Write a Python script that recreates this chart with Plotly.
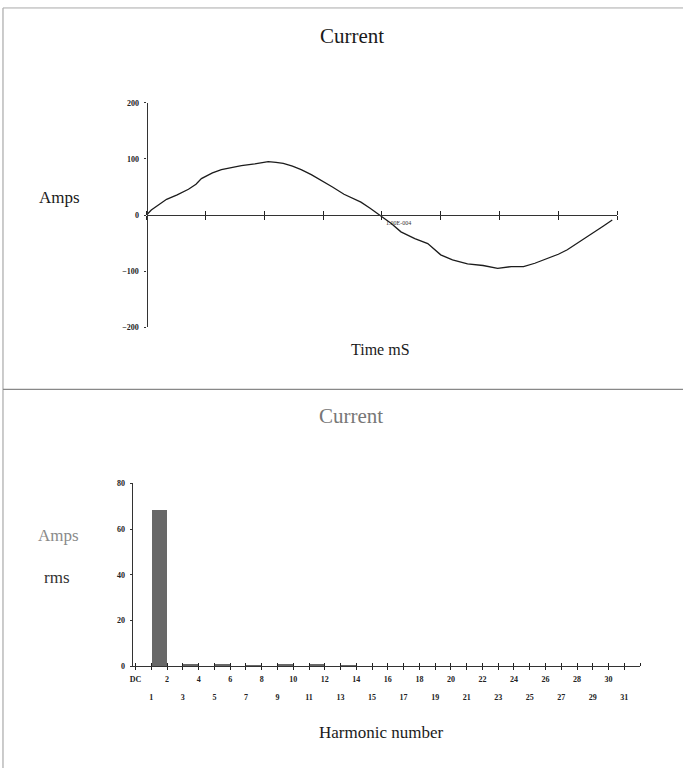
import plotly.graph_objects as go

# ---------------- data ----------------
# Top chart: current waveform over one 20 ms cycle
time_ms = [0, 0.2, 0.85, 1.3, 1.78, 2.1, 2.33, 2.8, 3.18, 3.6, 4.03, 4.6, 5.17, 5.5,
           5.81, 6.2, 6.57, 7.0, 7.42, 7.9, 8.39, 8.75, 9.11, 9.5, 9.92, 10.4, 10.81,
           11.4, 11.95, 12.5, 13.0, 13.64, 14.3, 14.92, 15.5, 16.02, 16.5, 17.03,
           17.5, 17.88, 18.4, 18.86, 19.4, 19.79]
current_a = [0, 9, 28, 36, 46, 55, 65, 75, 81, 85, 88, 91, 95, 94,
             92, 87, 81, 72, 62, 50, 37, 30, 23, 12, 0, -15, -30,
             -42, -51, -71, -80, -87, -90, -95, -92, -92, -86, -78,
             -70, -62, -48, -35, -20, -9]
time_ticks = [0, 2.5, 5, 7.5, 10, 12.5, 15, 17.5, 20]
amp_ticks = [-200, -100, 0, 100, 200]
cursor_label = "1.00E-004"
cursor_time = 10

# Bottom chart: harmonic spectrum (index 0 = DC)
harmonic_index = list(range(32))
harmonic_labels = ["DC"] + [str(i) for i in range(1, 32)]
harmonic_rms = [0, 68, 0, 0.4, 0, 0.6, 0, 0.3, 0, 0.7, 0, 0.5, 0, 0.3, 0, 0,
                0, 0, 0, 0, 0, 0, 0, 0, 0, 0, 0, 0, 0, 0, 0, 0]
rms_ticks = [0, 20, 40, 60, 80]

# ---------------- layout helpers ----------------
W, H = 683, 773
def px(x):
    return x / W
def py(y):
    return 1 - y / H

SERIF = "Liberation Serif"
tickfont = dict(family=SERIF, size=8, color="#222", weight="bold")

fig = go.Figure()
fig.add_trace(go.Scatter(x=time_ms, y=current_a, mode="lines",
                         line=dict(color="#1c1c1c", width=1.3),
                         xaxis="x", yaxis="y", showlegend=False, hoverinfo="skip"))
# invisible twins so the overlaid tick axes are drawn
fig.add_trace(go.Scatter(x=time_ms, y=current_a, mode="lines", opacity=0,
                         xaxis="x3", yaxis="y", showlegend=False, hoverinfo="skip"))
fig.add_trace(go.Bar(x=harmonic_index, y=harmonic_rms, offset=0, width=1,
                     marker=dict(color="#686868", line=dict(width=0)),
                     xaxis="x2", yaxis="y2", showlegend=False, hoverinfo="skip"))
fig.add_trace(go.Scatter(x=harmonic_index, y=harmonic_rms, mode="lines", opacity=0,
                         xaxis="x4", yaxis="y2", showlegend=False, hoverinfo="skip"))
fig.add_trace(go.Scatter(x=harmonic_index, y=harmonic_rms, mode="lines", opacity=0,
                         xaxis="x5", yaxis="y2", showlegend=False, hoverinfo="skip"))

top_y_dom = [py(327), py(100)]
top_mid = (top_y_dom[0] + top_y_dom[1]) / 2
bot_y_dom = [py(670), py(485)]

even_vals = [i for i in harmonic_index if i % 2 == 0]
odd_vals = [i for i in harmonic_index if i % 2 == 1]
all_vals = harmonic_index + [len(harmonic_index)]

fig.update_layout(
    width=W, height=H,
    margin=dict(l=0, r=0, t=0, b=0),
    paper_bgcolor="white", plot_bgcolor="rgba(0,0,0,0)",
    showlegend=False,
    bargap=0,
    xaxis=dict(domain=[px(145), px(617)], range=[0, 20], anchor="free", position=top_mid,
               showline=True, linecolor="#333", linewidth=1.2,
               ticks="outside", ticklen=4, tickwidth=1.3, tickcolor="#222",
               tickvals=time_ticks, showticklabels=False,
               showgrid=False, zeroline=False),
    xaxis3=dict(domain=[px(145), px(617)], range=[0, 20], anchor="free", position=top_mid,
                overlaying="x", side="top", showline=False,
                ticks="outside", ticklen=4, tickwidth=1.3, tickcolor="#222",
                tickvals=time_ticks, showticklabels=False,
                showgrid=False, zeroline=False),
    yaxis=dict(domain=top_y_dom, range=[-200, 200], anchor="free", position=px(145),
               showline=True, linecolor="#333", linewidth=1.2,
               ticks="outside", ticklen=2, tickcolor="#333",
               tickvals=amp_ticks, tickfont=tickfont, ticklabelstandoff=4,
               showgrid=False, zeroline=False),
    xaxis2=dict(domain=[px(130), px(640)], range=[-0.25, 32], anchor="free", position=py(670),
                showline=True, linecolor="#333", linewidth=1.2,
                ticks="outside", ticklen=3, tickwidth=1, tickcolor="#222",
                tickvals=even_vals, ticktext=[harmonic_labels[i] for i in even_vals],
                tickfont=tickfont, ticklabelstandoff=2,
                showgrid=False, zeroline=False),
    xaxis4=dict(domain=[px(130), px(640)], range=[-0.25, 32], anchor="free", position=py(670),
                overlaying="x2", showline=False, side="bottom",
                ticks="outside", ticklen=3, tickwidth=1, tickcolor="#222",
                tickvals=odd_vals, ticktext=[harmonic_labels[i] for i in odd_vals],
                tickfont=tickfont, ticklabelstandoff=20,
                showgrid=False, zeroline=False),
    xaxis5=dict(domain=[px(130), px(640)], range=[-0.25, 32], anchor="free", position=py(670),
                overlaying="x2", showline=False, side="top",
                ticks="outside", ticklen=3, tickwidth=1, tickcolor="#222",
                tickvals=all_vals, showticklabels=False,
                showgrid=False, zeroline=False),
    yaxis2=dict(domain=bot_y_dom, range=[0, 80], anchor="free", position=px(130),
                showline=True, linecolor="#333", linewidth=1.2,
                ticks="outside", ticklen=2, tickcolor="#333",
                tickvals=rms_ticks, tickfont=tickfont, ticklabelstandoff=3,
                showgrid=False, zeroline=False),
)

# frame lines (page decoration)
fig.add_shape(type="line", xref="paper", yref="paper", x0=px(1), x1=px(1), y0=0, y1=py(4),
              line=dict(color="#999", width=1))
fig.add_shape(type="line", xref="paper", yref="paper", x0=px(1), x1=1, y0=py(4), y1=py(4),
              line=dict(color="#aaa", width=1))
fig.add_shape(type="line", xref="paper", yref="paper", x0=px(1), x1=1, y0=py(390), y1=py(390),
              line=dict(color="#888", width=1.2))

def text(t, x, y, size, color="#1a1a1a", xanchor="center"):
    fig.add_annotation(text=t, x=px(x), y=py(y), xref="paper", yref="paper",
                       showarrow=False, xanchor=xanchor, yanchor="middle",
                       font=dict(family=SERIF, size=size, color=color))

text("Current", 351, 32, 21)
text("Amps", 35, 196, 17, xanchor="left")
text("Time mS", 380, 350, 16)
text("Current", 350, 417, 21, color="#777")
text("Amps", 34, 538, 17, color="#8a8a8a", xanchor="left")
text("rms", 40, 580, 17, color="#333", xanchor="left")
text("Harmonic number", 380, 737, 17)

fig.add_annotation(text=cursor_label, x=cursor_time, y=0, xref="x", yref="y",
                   showarrow=False, xanchor="left", yanchor="top", xshift=2, yshift=-3,
                   font=dict(family=SERIF, size=6, color="#333"))

fig.write_html("out.html", config={"displayModeBar": False},
               post_script="document.body.style.margin='0';document.body.style.overflow='hidden';")
